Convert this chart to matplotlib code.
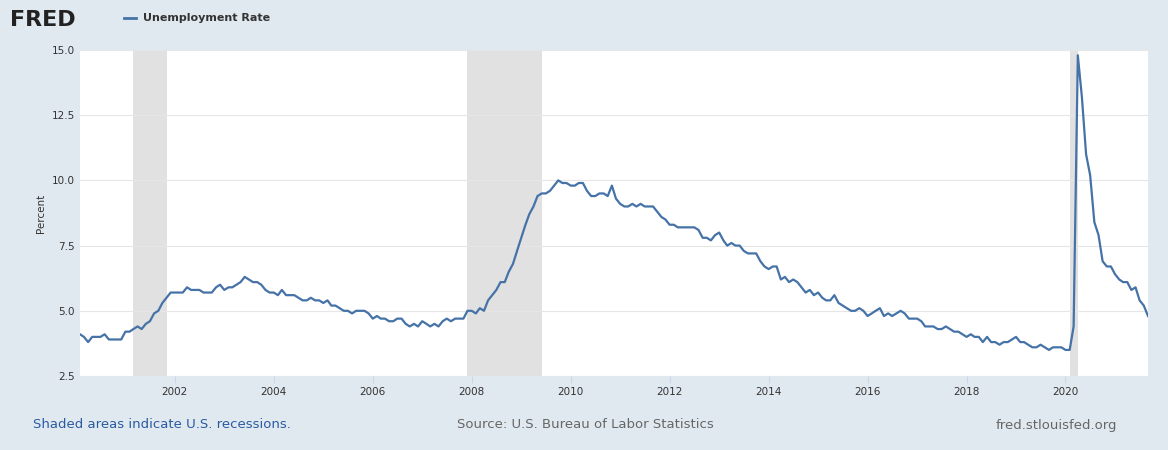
import matplotlib
matplotlib.use("Agg")
import matplotlib.pyplot as plt
import matplotlib.dates as mdates
import pandas as pd
import numpy as np

values = [
4.1,4.0,3.8,4.0,4.0,4.0,4.1,3.9,3.9,3.9,3.9,
4.2,4.2,4.3,4.4,4.3,4.5,4.6,4.9,5.0,5.3,5.5,5.7,
5.7,5.7,5.7,5.9,5.8,5.8,5.8,5.7,5.7,5.7,5.9,6.0,
5.8,5.9,5.9,6.0,6.1,6.3,6.2,6.1,6.1,6.0,5.8,5.7,
5.7,5.6,5.8,5.6,5.6,5.6,5.5,5.4,5.4,5.5,5.4,5.4,
5.3,5.4,5.2,5.2,5.1,5.0,5.0,4.9,5.0,5.0,5.0,4.9,
4.7,4.8,4.7,4.7,4.6,4.6,4.7,4.7,4.5,4.4,4.5,4.4,
4.6,4.5,4.4,4.5,4.4,4.6,4.7,4.6,4.7,4.7,4.7,5.0,
5.0,4.9,5.1,5.0,5.4,5.6,5.8,6.1,6.1,6.5,6.8,7.3,
7.8,8.3,8.7,9.0,9.4,9.5,9.5,9.6,9.8,10.0,9.9,9.9,
9.8,9.8,9.9,9.9,9.6,9.4,9.4,9.5,9.5,9.4,9.8,9.3,
9.1,9.0,9.0,9.1,9.0,9.1,9.0,9.0,9.0,8.8,8.6,8.5,
8.3,8.3,8.2,8.2,8.2,8.2,8.2,8.1,7.8,7.8,7.7,7.9,
8.0,7.7,7.5,7.6,7.5,7.5,7.3,7.2,7.2,7.2,6.9,6.7,
6.6,6.7,6.7,6.2,6.3,6.1,6.2,6.1,5.9,5.7,5.8,5.6,
5.7,5.5,5.4,5.4,5.6,5.3,5.2,5.1,5.0,5.0,5.1,5.0,
4.8,4.9,5.0,5.1,4.8,4.9,4.8,4.9,5.0,4.9,4.7,4.7,
4.7,4.6,4.4,4.4,4.4,4.3,4.3,4.4,4.3,4.2,4.2,4.1,
4.0,4.1,4.0,4.0,3.8,4.0,3.8,3.8,3.7,3.8,3.8,3.9,
4.0,3.8,3.8,3.7,3.6,3.6,3.7,3.6,3.5,3.6,3.6,3.6,
3.5,3.5,4.4,14.8,13.2,11.0,10.2,8.4,7.9,6.9,6.7,6.7,
6.4,6.2,6.1,6.1,5.8,5.9,5.4,5.2,4.8]
dates = pd.date_range("2000-02-01", periods=len(values), freq="MS")
recessions = [("2001-03-01","2001-11-01"),("2007-12-01","2009-06-01"),("2020-02-01","2020-04-01")]

bg = "#e1e9f0"
fig = plt.figure(figsize=(11.68,4.5), dpi=100, facecolor=bg)
ax = fig.add_axes([80/1168, 74/450, 1068/1168, 326/450])
ax.set_facecolor("white")
for s,e in recessions:
    ax.axvspan(pd.Timestamp(s), pd.Timestamp(e), color="#e1e1e1", lw=0)
ax.plot(dates, values, color="#4572a7", lw=1.6)
ax.set_xlim(dates[0], dates[-1])
ax.set_ylim(2.5, 15)
ax.set_yticks([2.5,5,7.5,10,12.5,15])
ax.set_yticklabels(["2.5","5.0","7.5","10.0","12.5","15.0"])
ax.xaxis.set_major_locator(mdates.YearLocator(2))
ax.xaxis.set_major_formatter(mdates.DateFormatter("%Y"))
ax.grid(axis="y", color="#e6e6e6", lw=0.8)
for sp in ax.spines.values(): sp.set_visible(False)
ax.tick_params(axis="both", labelsize=7.5, colors="#333333", length=0)
ax.tick_params(axis="x", length=5, color="#ccd6eb", pad=3)
ax.set_ylabel("Percent", fontsize=7.5, color="#333333")
fig.text(10/1168, 1-20/450, "FRED", fontsize=16, fontweight="bold", color="#222222", va="center")
fig.lines.append(plt.Line2D([124/1168,136/1168],[1-18/450]*2, color="#4572a7", lw=2, transform=fig.transFigure))
fig.text(143/1168, 1-18/450, "Unemployment Rate", fontsize=8, fontweight="bold", color="#333333", va="center")
fig.text(33/1168, 1-425/450, "Shaded areas indicate U.S. recessions.", fontsize=9.5, color="#2a5aa0", va="center")
fig.text(457/1168, 1-425/450, "Source: U.S. Bureau of Labor Statistics", fontsize=9.5, color="#666666", va="center")
fig.text(1117/1168, 1-425/450, "fred.stlouisfed.org", fontsize=9.5, color="#666666", va="center", ha="right")
fig.savefig("out.png", dpi=100, facecolor=bg)
